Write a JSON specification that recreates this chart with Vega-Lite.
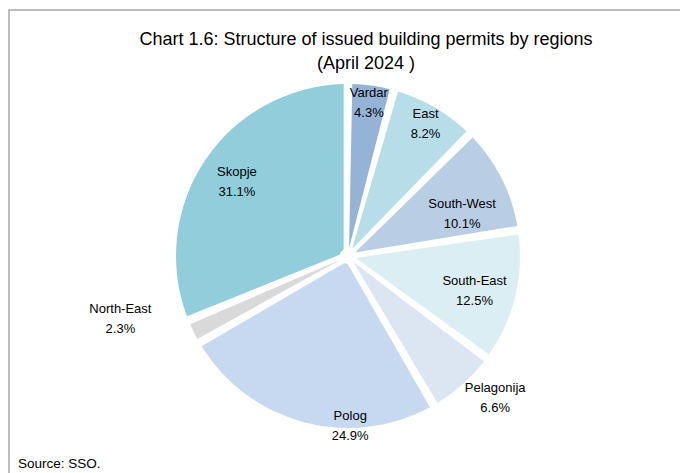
{
  "$schema": "https://vega.github.io/schema/vega-lite/v6.json",
  "width": 678,
  "height": 492,
  "autosize": {"type": "none"},
  "padding": {"left": 9, "top": 10, "right": -7, "bottom": -29},
  "background": "white",
  "view": {"stroke": "#a6a6a6", "strokeWidth": 1.5, "fill": "white"},
  "config": {
    "view": {"stroke": "#a6a6a6", "strokeWidth": 1.5},
    "font": "Liberation Sans"
  },
  "title": {
    "text": ["Chart 1.6: Structure of issued building permits by regions", "(April 2024 )"],
    "font": "Liberation Sans",
    "fontSize": 18,
    "fontWeight": "normal",
    "color": "#000000",
    "lineHeight": 24,
    "anchor": "middle",
    "baseline": "top",
    "dx": 18,
    "offset": -63
  },
  "data": {
    "values": [
      {"n": 1, "region": "Vardar", "value": 4.3},
      {"n": 2, "region": "East", "value": 8.2},
      {"n": 3, "region": "South-West", "value": 10.1},
      {"n": 4, "region": "South-East", "value": 12.5},
      {"n": 5, "region": "Pelagonija", "value": 6.6},
      {"n": 6, "region": "Polog", "value": 24.9},
      {"n": 7, "region": "North-East", "value": 2.3},
      {"n": 8, "region": "Skopje", "value": 31.1}
    ]
  },
  "layer": [
    {
      "mark": {"type": "arc", "outerRadius": 172, "innerRadius": 8, "padAngle": 0.05},
      "encoding": {
        "theta": {"field": "value", "type": "quantitative", "stack": true},
        "order": {"field": "n", "type": "quantitative"},
        "color": {
          "field": "region",
          "type": "nominal",
          "scale": {
            "domain": ["Vardar", "East", "South-West", "South-East", "Pelagonija", "Polog", "North-East", "Skopje"],
            "range": ["#95b3d7", "#b7dee8", "#b9cde5", "#dbeef4", "#dce6f2", "#c6d9f1", "#d9d9d9", "#92cddc"]
          },
          "legend": null
        }
      }
    },
    {
      "transform": [
        {"calculate": "[datum.region, format(datum.value, '.1f') + '%']", "as": "label"}
      ],
      "mark": {
        "type": "text",
        "fontSize": 13,
        "font": "Liberation Sans",
        "color": "#000000",
        "align": "center",
        "baseline": "middle",
        "lineHeight": 20,
        "dy": -9,
        "radius": {"expr": "datum.region === 'Vardar' ? 155 : datum.region === 'East' ? 154 : datum.region === 'South-West' ? 122 : datum.region === 'South-East' ? 131 : datum.region === 'Pelagonija' ? 204 : datum.region === 'Polog' ? 169 : datum.region === 'North-East' ? 236 : 134"},
        "thetaOffset": {"expr": "datum.region === 'South-West' ? 0.106 : datum.region === 'South-East' ? 0.02 : datum.region === 'Pelagonija' ? -0.077 : datum.region === 'Polog' ? -0.274 : datum.region === 'North-East' ? 0.188 : 0"}
      },
      "encoding": {
        "theta": {"field": "value", "type": "quantitative", "stack": true},
        "order": {"field": "n", "type": "quantitative"},
        "text": {"field": "label"}
      }
    },
    {
      "data": {"values": [{"note": "Source: SSO."}]},
      "mark": {"type": "text", "align": "left", "baseline": "alphabetic", "fontSize": 13.5, "font": "Liberation Sans", "color": "#000000", "x": 9, "y": 458},
      "encoding": {"text": {"field": "note"}}
    }
  ]
}
